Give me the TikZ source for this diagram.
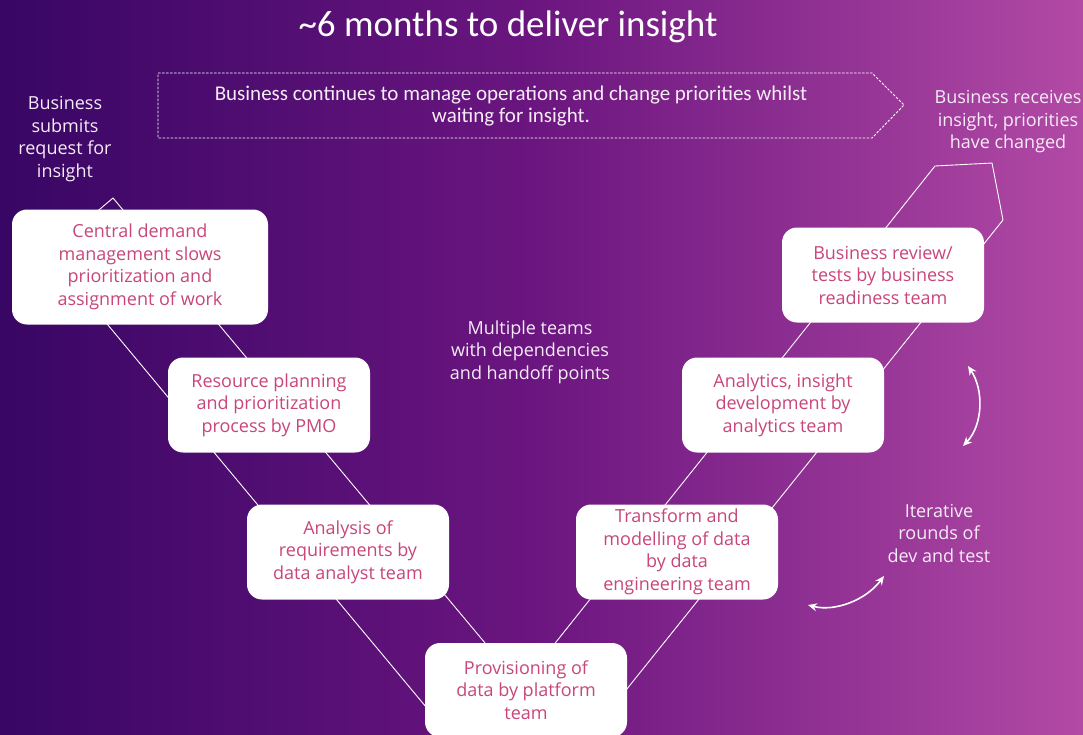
\documentclass[tikz,border=0pt]{standalone}
\usepackage{fontspec}
\setmainfont{Carlito}
\newfontfamily\boxfont{Open Sans}
\usetikzlibrary{arrows.meta}
\usetikzlibrary{positioning}

\definecolor{bgleft}{RGB}{56,6,100}
\definecolor{bgmid}{RGB}{108,22,128}
\definecolor{bgright}{RGB}{178,74,165}
\definecolor{boxpink}{RGB}{200,70,122}
\definecolor{softwhite}{RGB}{246,236,246}

\begin{document}
\begin{tikzpicture}[x=1pt,y=-1pt,
  every node/.style={align=center,text=softwhite},
  stepbox/.style={fill=white,rounded corners=15pt,minimum width=202pt,minimum height=95pt,
    inner sep=2pt,text=boxpink,font=\boxfont\fontsize{18}{22.5}\selectfont},
  lbl/.style={font=\boxfont\fontsize{18}{22.5}\selectfont},
  vline/.style={draw=white,line width=0.9pt},
  cyc/.style={draw=white,line width=1.6pt,{Stealth[length=9pt,width=8pt]}-{Stealth[length=9pt,width=8pt]}}]
\useasboundingbox (0,0) rectangle (1083,734);
\shade[left color=bgleft,right color=bgright,middle color=bgmid] (0,0) rectangle (1083,734);

% V outline
\coordinate (ltop) at (113,198);
\coordinate (lcorner) at (48,253);
\coordinate (vin) at (521,686);
\coordinate (vout) at (521,821);
\coordinate (rin) at (935,166);
\coordinate (rtip) at (992,163);
\coordinate (rout) at (1003,220);
\draw[vline] (ltop)--(vin)--(rin)--(rtip)--(rout)--(vout)--(lcorner)--cycle;

% dashed banner
\draw[draw=white,line width=0.9pt,dash pattern=on 2.5pt off 1.5pt]
  (158,73)--(872,73)--(904,105)--(872,138)--(158,138)--cycle;

\node[font=\fontsize{37}{42}\selectfont,text=white](title) at (508,27) {\textasciitilde 6 months to deliver insight};
\node[font=\fontsize{21}{22.5}\selectfont](waiting) at (511,106) {Business continues to manage operations and change priorities whilst\\waiting for insight.};

\node[lbl](submits) at (65,139) {Business\\submits\\request for\\insight};
\node[lbl](receives) at (1008,122) {Business receives\\insight, priorities\\have changed};
\node[lbl](multiteams) at (530,352) {Multiple teams\\with dependencies\\and handoff points};
\node[lbl](iterative) at (939,533) {Iterative\\rounds of\\dev and test};

\node[stepbox,minimum width=256pt,minimum height=115pt](central) at (140,267) {Central demand\\management slows\\prioritization and\\assignment of work};
\node[stepbox](resource) at (269,405) {Resource planning\\and prioritization\\process by PMO};
\node[stepbox](analysis) at (348,552) {Analysis of\\requirements by\\data analyst team};
\node[stepbox,minimum height=94pt](provision) at (526,690) {Provisioning of\\data by platform\\team};
\node[stepbox](transform) at (677,552) {Transform and\\modelling of data\\by data\\engineering team};
\node[stepbox](analytics) at (783,405) {Analytics, insight\\development by\\analytics team};
\node[stepbox](review) at (883,275) {Business review/\\tests by business\\readiness team};

\coordinate (upA) at (968,366);
\coordinate (upB) at (963,446);
\coordinate (lowA) at (808,605);
\coordinate (lowB) at (884,576);
\draw[cyc] (upA) .. controls (984,390) and (983,425) .. (upB);
\draw[cyc] (lowA) .. controls (835,612) and (866,600) .. (lowB);
\end{tikzpicture}
\end{document}
